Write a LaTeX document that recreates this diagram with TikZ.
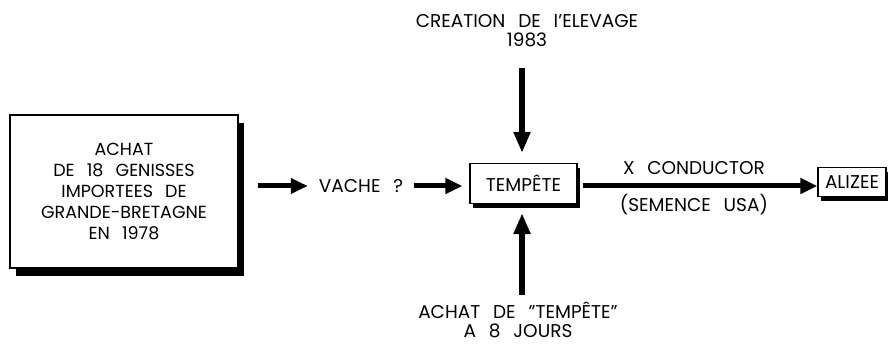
\documentclass[tikz,border=0pt]{standalone}
\usepackage{fontspec}
\setmainfont{Poppins}[WordSpace=2.6]
\usetikzlibrary{arrows.meta,shadows}
\begin{document}
\begin{tikzpicture}[x=1pt,y=-1pt,
  every node/.style={font=\fontsize{18.5}{19}\selectfont, inner sep=0pt},
  shadowbox/.style={draw=black, line width=1.3pt, fill=white, rectangle,
    drop shadow={fill=black, opacity=1, shadow xshift=3pt, shadow yshift=-5pt}},
  bigshadow/.style={shadowbox,
    drop shadow={fill=black, opacity=1, shadow xshift=6pt, shadow yshift=-8pt}},
  fatarrow/.style={line width=5pt, -{Triangle[length=17pt,width=15pt]}},
  vertarrow/.style={line width=6pt, -{Triangle[length=21pt,width=16pt]}}
]
\useasboundingbox (0,0) rectangle (888,344);

% boxes
\node[draw=black, line width=1.3pt, fill=white,
      drop shadow={fill=black, opacity=1, shadow xshift=6pt, shadow yshift=-8pt},
      minimum width=228pt, minimum height=153pt, align=center,
      font=\fontsize{17.5}{21}\selectfont] (origin) at (124,191.5)
  {ACHAT\\DE 18 GENISSES\\IMPORTEES DE\\GRANDE-BRETAGNE\\EN 1978};
\node (vache) at (361,186) {VACHE ?};
\node[shadowbox, minimum width=107pt, minimum height=40pt] (tempete) at (523.5,183.5) {TEMPÊTE};
\node[shadowbox, minimum width=68pt, minimum height=29pt] (alizee) at (852,182) {ALIZEE};

% side inputs
\node[align=center] (creation) at (527,30.5) {CREATION DE I’ELEVAGE\\1983};
\node[align=center] (achat) at (518,320) {ACHAT DE "TEMPÊTE"\\A 8 JOURS};
\coordinate (topstart) at (522,68);
\coordinate (botstart) at (522,295);

% connectors
\draw[fatarrow, shorten <=19pt, shorten >=11pt] (origin.east |- vache.west) -- (vache.west);
\draw[fatarrow, shorten <=11pt, shorten >=7pt] (vache.east) -- (vache.east -| tempete.west);
\draw[fatarrow, shorten <=5pt] (tempete.east |- vache) -- (alizee.west |- vache)
  node[pos=0.485, yshift=18pt] (cond) {X CONDUCTOR}
  node[pos=0.485, yshift=-19pt] (semence) {(SEMENCE USA)};
\draw[vertarrow, shorten >=10pt] (topstart) -- (topstart |- tempete.north);
\draw[vertarrow, shorten >=9pt] (botstart) -- (botstart |- tempete.south);
\end{tikzpicture}
\end{document}
